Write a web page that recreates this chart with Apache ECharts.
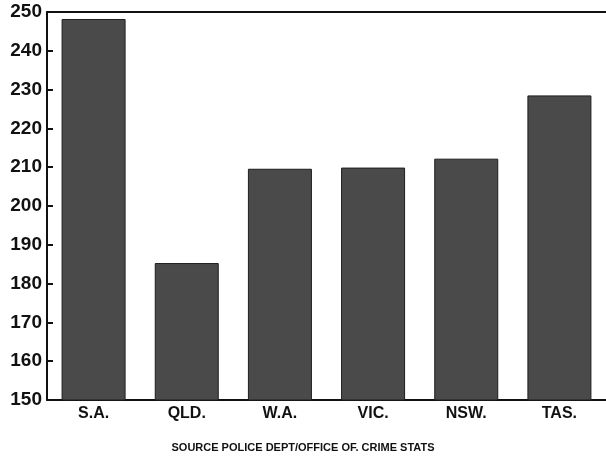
<!DOCTYPE html>
<html>
<head>
<meta charset="utf-8">
<script src="https://cdn.jsdelivr.net/npm/echarts@6/dist/echarts.min.js"></script>
<style>
  html, body { margin: 0; padding: 0; background: #fff; }
  #chart { width: 606px; height: 456px; }
</style>
</head>
<body>
<div id="chart"></div>
<script>
// states and their values
let states = ['S.A.', 'QLD.', 'W.A.', 'VIC.', 'NSW.', 'TAS.']
let rates = [248.2, 185.3, 209.6, 209.9, 212.2, 228.5]
let yTicks = [150, 160, 170, 180, 190, 200, 210, 220, 230, 240, 250]
let source = 'SOURCE POLICE DEPT/OFFICE OF. CRIME STATS'

const chart = echarts.init(document.getElementById('chart'));
let option = {
    animation: false,
    grid: {
        left: 47,
        top: 12,
        bottom: 56,
        width: 563
    },
    graphic: [
        {
            type: 'text',
            left: 'center',
            top: 442,
            style: {
                text: source,
                font: 'bold 11px "Liberation Sans", Arial, sans-serif',
                fill: '#111'
            }
        }
    ],
    xAxis: [
        {
            type: 'category',
            data: states,
            axisLine: { lineStyle: { color: '#111', width: 2 } },
            axisTick: { show: false },
            axisLabel: {
                color: '#111',
                fontSize: 16,
                fontWeight: 'bold',
                fontFamily: '"Liberation Sans", Arial, sans-serif',
                margin: 6
            }
        },
        {
            type: 'category',
            position: 'top',
            data: states,
            axisLine: { lineStyle: { color: '#111', width: 2 } },
            axisTick: { show: false },
            axisLabel: { show: false }
        }
    ],
    yAxis: {
        type: 'value',
        min: yTicks[0],
        max: yTicks[yTicks.length - 1],
        interval: 10,
        splitLine: { show: false },
        axisLine: { show: true, lineStyle: { color: '#111', width: 2 } },
        axisTick: { show: true, inside: true, length: 6, lineStyle: { color: '#111', width: 2 } },
        axisLabel: {
            color: '#111',
            fontSize: 19,
            fontWeight: 'bold',
            fontFamily: '"Liberation Sans", Arial, sans-serif',
            margin: 5
        }
    },
    series: [
        {
            type: 'bar',
            data: rates,
            barWidth: 64,
            itemStyle: {
                color: '#4a4a4a',
                borderColor: '#1e1e1e',
                borderWidth: 1
            }
        }
    ]
};
chart.setOption(option);
</script>
</body>
</html>
